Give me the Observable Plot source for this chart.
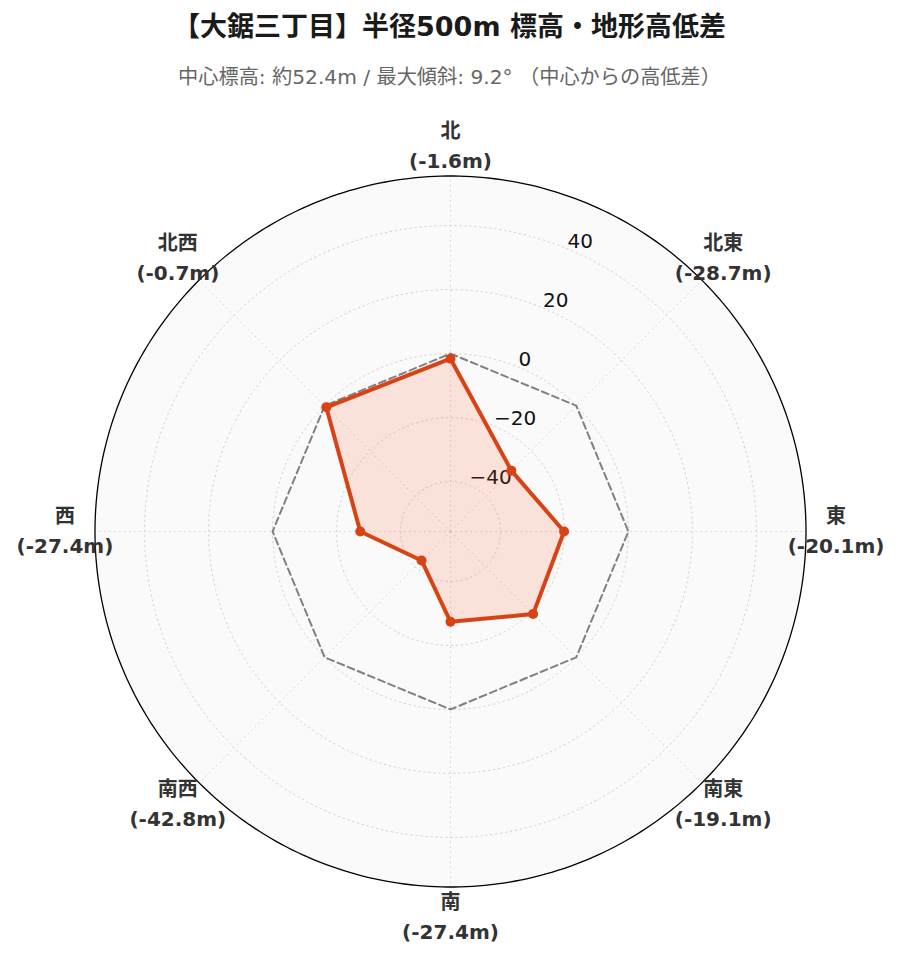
<!DOCTYPE html>
<html>
<head>
<meta charset="utf-8">
<script src="https://cdn.jsdelivr.net/npm/d3@7"></script>
<script src="https://cdn.jsdelivr.net/npm/@observablehq/plot@0.6"></script>
<style>
  body { margin: 0; background: #ffffff; font-family: "DejaVu Sans", "Noto Sans CJK JP", sans-serif; }
  #title { height: 54px; line-height: 54px; text-align: center; font-size: 27px; font-weight: bold; color: #1a1a1a; }
  #subtitle { height: 46px; line-height: 46px; text-align: center; font-size: 20.2px; color: #666666; }
  #chart svg { display: block; overflow: visible; }
</style>
</head>
<body>
<div id="title">【大鋸三丁目】半径500m 標高・地形高低差</div>
<div id="subtitle">中心標高: 約52.4m / 最大傾斜: 9.2° （中心からの高低差）</div>
<div id="chart"></div>
<script>
// ---- data ----
const directions = ["北", "北東", "東", "南東", "南", "南西", "西", "北西"];
const bearings = [0, 45, 90, 135, 180, 225, 270, 315];
const elevationDiff = [-1.6, -28.7, -20.1, -19.1, -27.4, -42.8, -27.4, -0.7];
const radialTicks = [-40, -20, 0, 20, 40];
const radialTickLabels = ["−40", "−20", "0", "20", "40"];
const referenceLevel = 0;
const rMin = -55.6;
const rMax = 55.5;
const labelLevel = 64.9;     // radial position of direction labels
const tickBearing = 22.5;    // bearing of radial tick labels

// ---- polar helpers (azimuthal projection centred on the pole) ----
const k = 0.5; // degrees of arc per data unit
const lon = (b) => 180 - b;
const lat = (v) => 90 - (v - rMin) * k;
const circle = (v) => d3.geoCircle().center([0, 90]).radius((v - rMin) * k).precision(1)();

const points = directions.map((d, i) => ({dir: d, bearing: bearings[i], value: elevationDiff[i]}));
const refRing = bearings.map((b) => ({bearing: b, value: referenceLevel}));
const ticks = radialTicks.map((t, i) => ({value: t, label: radialTickLabels[i]}));

const fontFamily = '"DejaVu Sans", "Noto Sans CJK JP", sans-serif';

const chart = Plot.plot({
  width: 899,
  height: 862,
  marginLeft: 94.5,
  marginRight: 93.5,
  marginTop: 75.5,
  marginBottom: 75.5,
  style: {fontFamily, background: "transparent", overflow: "visible"},
  projection: {
    type: "azimuthal-equidistant",
    rotate: [0, -90],
    domain: circle(rMax),
    clip: false
  },
  marks: [
    // disc background
    Plot.geo([circle(rMax)], {fill: "#fafafa", stroke: "none"}),
    // radial grid circles
    Plot.geo(radialTicks.map(circle), {fill: "none", stroke: "#d2d2d2", strokeWidth: 1, strokeDasharray: "1.5,3.5"}),
    // spokes
    Plot.link(bearings, {
      x1: (b) => lon(b), y1: 90, x2: (b) => lon(b), y2: lat(rMax),
      curve: "linear", stroke: "#d2d2d2", strokeWidth: 1, strokeDasharray: "1.5,3.5"
    }),
    // radial tick labels
    Plot.text(ticks, {
      x: lon(tickBearing), y: (d) => lat(d.value), text: "label",
      textAnchor: "start", lineAnchor: "bottom", dy: -1,
      fontSize: 20, fill: "#111111"
    }),
    // reference (0 m) ring
    Plot.line(refRing, {
      x: (d) => lon(d.bearing), y: (d) => lat(d.value),
      curve: "linear-closed", stroke: "#808080", strokeWidth: 2, strokeDasharray: "7,4"
    }),
    // data polygon fill
    Plot.area(points, {
      x1: (d) => lon(d.bearing), y1: (d) => lat(d.value), x2: 0, y2: 90,
      curve: "linear-closed", fill: "#FF5722", fillOpacity: 0.15, stroke: "none"
    }),
    // data polygon outline
    Plot.line(points, {
      x: (d) => lon(d.bearing), y: (d) => lat(d.value),
      curve: "linear-closed", stroke: "#D84315", strokeWidth: 4, strokeLinejoin: "round"
    }),
    Plot.dot(points, {
      x: (d) => lon(d.bearing), y: (d) => lat(d.value),
      r: 5, fill: "#D84315", stroke: "none"
    }),
    // outer spine
    Plot.geo([circle(rMax)], {fill: "none", stroke: "#000000", strokeWidth: 1.3}),
    // direction labels
    Plot.text(points, {
      x: (d) => lon(d.bearing), y: lat(labelLevel),
      text: (d) => `${d.dir}\n(${d.value.toFixed(1)}m)`,
      lineHeight: 1.5, textAnchor: "middle", lineAnchor: "middle", dy: -3,
      fontSize: 20, fontWeight: "bold", fill: "#333333"
    })
  ]
});
document.getElementById("chart").appendChild(chart);
</script>
</body>
</html>
